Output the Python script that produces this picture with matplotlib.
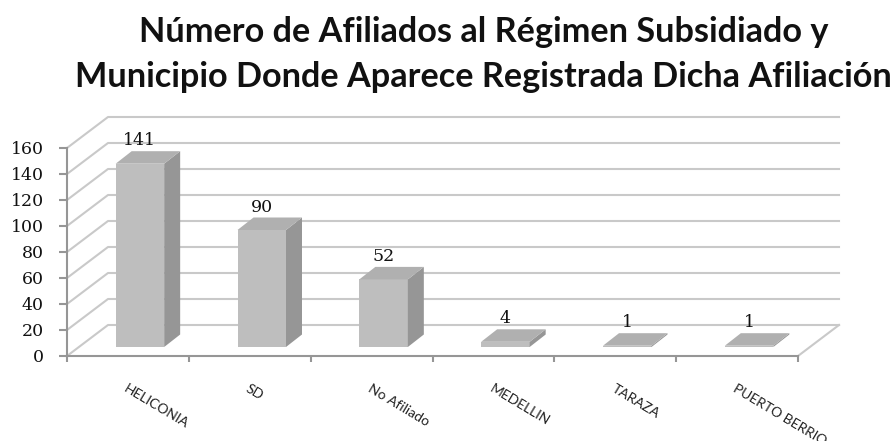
#!/usr/bin/env python3
import matplotlib
matplotlib.use('Agg')
import matplotlib.pyplot as plt
from matplotlib.patches import Polygon

categories = ['HELICONIA', 'SD', 'No Afiliado', 'MEDELLIN', 'TARAZA', 'PUERTO BERRIO']
values = [141, 90, 52, 4, 1, 1]
y_ticks = [0, 20, 40, 60, 80, 100, 120, 140, 160]
title_lines = ['Número de Afiliados al Régimen Subsidiado y',
               'Municipio Donde Aparece Registrada Dicha Afiliación']

W, H = 896, 441
X0, X1 = 67, 798
Y0, Y160 = 356, 148
px_x = 6 / (X1 - X0)
px_y = 160 / (Y0 - Y160)

fig = plt.figure(figsize=(W / 100, H / 100), dpi=100)
ax = fig.add_axes([X0 / W, 1 - Y0 / H, (X1 - X0) / W, (Y0 - Y160) / H])
ax.set_xlim(0, 6)
ax.set_ylim(0, 160)
ax.patch.set_visible(False)

GRID = '#c9c9c9'
AXIS = '#969696'

# pared del fondo
dx, dy = 41 * px_x, 31 * px_y
for t in y_ticks:
    ax.plot([0, dx, 6 + dx], [t, t + dy, t + dy], color=GRID, lw=1.5, clip_on=False, zorder=1)
ax.plot([6, 6 + dx], [0, dy], color=GRID, lw=1.5, clip_on=False, zorder=1)

# barras 3D
bar_w = 48.5 * px_x
bar_dx, bar_dy = 16 * px_x, 12.5 * px_y
shift, base = 12 * px_x, 9 * px_y
for i, v in enumerate(values):
    left = i + 0.5 + shift - bar_w / 2
    right = left + bar_w
    top = base + v
    ax.add_patch(Polygon([(left, base), (right, base), (right, top), (left, top)],
                         fc='#bebebe', ec='none', clip_on=False, zorder=3))
    ax.add_patch(Polygon([(right, base), (right + bar_dx, base + bar_dy),
                          (right + bar_dx, top + bar_dy), (right, top)],
                         fc='#969696', ec='none', clip_on=False, zorder=3))
    ax.add_patch(Polygon([(left, top), (right, top), (right + bar_dx, top + bar_dy),
                          (left + bar_dx, top + bar_dy)],
                         fc='#b0b0b0', ec='none', clip_on=False, zorder=3))
    ax.text(left + bar_w / 2, top + bar_dy + 6 * px_y, str(v), ha='center', va='baseline',
            fontsize=12.5, family='DejaVu Serif', color='#111111', zorder=4, clip_on=False)

# ejes
for s in ['top', 'right']:
    ax.spines[s].set_visible(False)
for s in ['left', 'bottom']:
    ax.spines[s].set_color(AXIS)
    ax.spines[s].set_linewidth(1.5)
    ax.spines[s].set_zorder(2)
ax.set_yticks(y_ticks)
ax.set_xticks(range(7))
ax.set_xticklabels([])
ax.tick_params(axis='y', length=5.8, width=1.5, color=AXIS, pad=11)
ax.tick_params(axis='x', length=4, width=1.5, color=AXIS)
for lab in ax.get_yticklabels():
    lab.set_family('DejaVu Serif')
    lab.set_fontsize(12.5)
    lab.set_color('#111111')

for i, c in enumerate(categories):
    ax.annotate(c, (i + 0.5, 0), xytext=(-2, -23), textcoords='offset points',
                rotation=-31, rotation_mode='anchor', ha='left', va='center',
                fontsize=10, family='Lato', color='#222222', annotation_clip=False)

# titulo en dos lineas
for line, baseline in zip(title_lines, [42, 87]):
    fig.text(483.5 / W, 1 - baseline / H, line, ha='center', va='baseline', fontsize=24.7,
             fontweight='bold', family='Lato', color='#111111')

fig.savefig('out.png', dpi=100)
